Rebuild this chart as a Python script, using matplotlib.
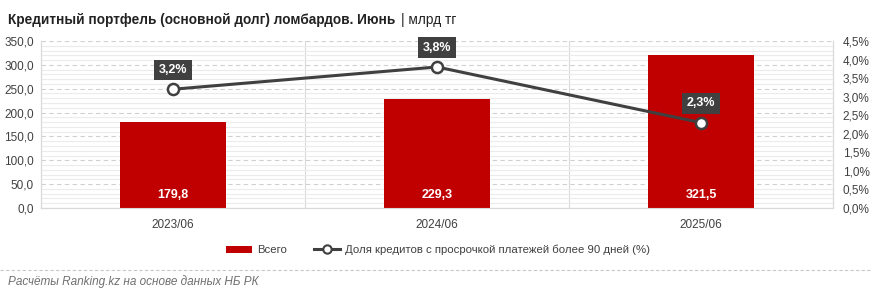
import matplotlib.pyplot as plt
from matplotlib.ticker import MultipleLocator, FuncFormatter
from matplotlib.lines import Line2D
from matplotlib.patches import Patch

categories = ['2023/06', '2024/06', '2025/06']
total = [179.8, 229.3, 321.5]
overdue_share = [3.2, 3.8, 2.3]

red = '#C00000'
dark = '#404040'

plt.rcParams['font.family'] = ['Liberation Sans', 'DejaVu Sans']

fig = plt.figure(figsize=(8.72, 2.96), dpi=100)
ax = fig.add_axes([41 / 872, 1 - 208 / 296, 792 / 872, 167 / 296])
ax2 = ax.twinx()

x = list(range(len(categories)))
ax.bar(x, total, width=0.4, color=red, zorder=3)
for xi, v in zip(x, total):
    ax.text(xi, 27, f'{v:.1f}'.replace('.', ','), ha='center', va='center',
            color='white', fontsize=9, fontweight='bold', zorder=4)

ax.set_xlim(-0.5, 2.5)
ax.set_ylim(0, 350)
ax.yaxis.set_major_locator(MultipleLocator(50))
ax.yaxis.set_minor_locator(MultipleLocator(10))
ax.yaxis.set_major_formatter(FuncFormatter(lambda v, p: f'{v:.1f}'.replace('.', ',')))
ax.grid(axis='y', which='major', color='#d0d0d0', linestyle=(0, (4, 3)), linewidth=0.8, zorder=0)
ax.grid(axis='y', which='minor', color='#ececec', linestyle='-', linewidth=0.8, zorder=0)
for b in [0.5, 1.5]:
    ax.axvline(b, color='#d9d9d9', linewidth=0.8, zorder=1)
ax.set_xticks(x)
ax.set_xticklabels(categories)
ax.tick_params(axis='both', which='both', length=0, labelsize=8.5, colors='#404040')
ax.tick_params(axis='x', pad=8)
ax.tick_params(axis='y', pad=5)
for a in (ax, ax2):
    a.spines['top'].set_visible(False)
    a.spines['left'].set_color('#d9d9d9')
    a.spines['right'].set_color('#d9d9d9')
    a.spines['bottom'].set_color('#d9d9d9')

ax2.plot(x, overdue_share, color=dark, linewidth=2.2, marker='o', markersize=8,
         markerfacecolor='white', markeredgecolor=dark, markeredgewidth=1.8, zorder=5)
for xi, v in zip(x, overdue_share):
    ax2.text(xi, v + 0.52, f'{v:.1f}%'.replace('.', ','), ha='center', va='center',
             color='white', fontsize=9, fontweight='bold', zorder=6,
             bbox=dict(boxstyle='square,pad=0.35', facecolor=dark, edgecolor='none'))
ax2.set_ylim(0, 4.5)
ax2.yaxis.set_major_locator(MultipleLocator(0.5))
ax2.yaxis.set_major_formatter(FuncFormatter(lambda v, p: f'{v:.1f}%'.replace('.', ',')))
ax2.tick_params(axis='y', length=0, labelsize=8.5, colors='#404040', pad=7)
ax.set_zorder(1)
ax2.set_zorder(2)

fig.text(8 / 872, 1 - 20 / 296, 'Кредитный портфель (основной долг) ломбардов. Июнь',
         fontsize=9.8, fontweight='bold', color='#222222', va='center')
t = fig.texts[-1]
fig.canvas.draw()
bb = t.get_window_extent()
fig.text(bb.x1 / 872 + 0.006, 1 - 20 / 296, '| млрд тг', fontsize=9.8,
         color='#222222', va='center')

handles = [Patch(facecolor=red, edgecolor='none'),
           Line2D([], [], color=dark, linewidth=2.2, marker='o', markersize=6,
                  markerfacecolor='white', markeredgecolor=dark, markeredgewidth=1.5)]
fig.legend(handles, ['Всего', 'Доля кредитов с просрочкой платежей более 90 дней (%)'],
           loc='center', bbox_to_anchor=(0.502, 1 - 250 / 296), ncol=2, frameon=False,
           fontsize=8.2, handlelength=2.3, handleheight=0.6, columnspacing=2.4,
           handletextpad=0.4, labelcolor='#404040')

fig.add_artist(Line2D([0, 1], [1 - 270 / 296] * 2, color='#c8c8c8', linewidth=0.8,
                      linestyle=(0, (3, 2)), transform=fig.transFigure))
fig.text(8 / 872, 1 - 282 / 296, 'Расчёты Ranking.kz на основе данных НБ РК',
         fontsize=8.5, style='italic', color='#707070', va='center')

fig.savefig('out.png', dpi=100)
